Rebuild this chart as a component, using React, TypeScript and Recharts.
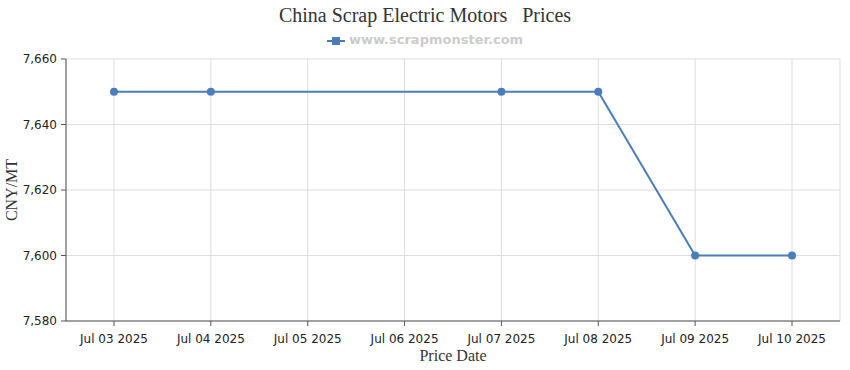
import React from "react";
import {
    LineChart,
    Line,
    XAxis,
    YAxis,
    CartesianGrid,
} from "recharts";

const dates = [
    "Jul 03 2025",
    "Jul 04 2025",
    "Jul 05 2025",
    "Jul 06 2025",
    "Jul 07 2025",
    "Jul 08 2025",
    "Jul 09 2025",
    "Jul 10 2025",
];
const prices: (number | null)[] = [7650, 7650, null, null, 7650, 7650, 7600, 7600];
const yTicks = [7580, 7600, 7620, 7640, 7660];

const data = dates.map((d, i) => ({ date: d, price: prices[i] }));

const LINE = "#4a7ebb";
const sans = "'DejaVu Sans', Verdana, sans-serif";
const serif = "'Liberation Serif', 'Times New Roman', serif";

// y axis title, centred on the plot height
const YTitle = () => (
    <text
        x={17}
        y={190}
        transform="rotate(-90 17 190)"
        textAnchor="middle"
        fill="#333"
        fontSize={16}
        fontFamily={serif}
    >
        CNY/MT
    </text>
);

const App: React.FC = () => {
    return (
        <div style={{ position: "absolute", left: 0, top: 0, width: 850, height: 370, background: "#fff" }}>
            <div
                style={{
                    position: "absolute",
                    top: 4,
                    width: 850,
                    textAlign: "center",
                    fontFamily: serif,
                    fontSize: 20,
                    color: "#333",
                    whiteSpace: "pre",
                }}
            >
                {"China Scrap Electric Motors   Prices"}
            </div>
            <div
                style={{
                    position: "absolute",
                    top: 32,
                    width: 850,
                    textAlign: "center",
                    fontFamily: sans,
                    fontSize: 13,
                    fontWeight: "bold",
                    color: "#cccccc",
                }}
            >
                <svg width={18} height={10} style={{ marginRight: 4, verticalAlign: "middle" }}>
                    <line x1={0} y1={5} x2={18} y2={5} stroke={LINE} strokeWidth={2} />
                    <rect x={5} y={1} width={8} height={8} fill={LINE} />
                </svg>
                www.scrapmonster.com
            </div>
            <LineChart width={850} height={370} data={data} margin={{ top: 59, right: 10, bottom: 0, left: 0 }}>
                <CartesianGrid stroke="#dddddd" />
                <XAxis
                    dataKey="date"
                    stroke="#555"
                    padding={{ left: 48, right: 48 }}
                    tickSize={5}
                    tickMargin={8}
                    tick={{ fill: "#222", fontSize: 12, fontFamily: sans }}
                    height={49}
                    label={{ value: "Price Date", position: "insideBottom", offset: 9, fill: "#333", fontSize: 16, fontFamily: serif }}
                />
                <YAxis
                    domain={[7580, 7660]}
                    ticks={yTicks}
                    stroke="#555"
                    width={66}
                    tickSize={5}
                    tickMargin={4}
                    tick={{ fill: "#222", fontSize: 12, fontFamily: sans }}
                    tickFormatter={(v: number) => v.toLocaleString("en-US")}
                    label={<YTitle />}
                />
                <Line
                    type="linear"
                    dataKey="price"
                    stroke={LINE}
                    strokeWidth={2}
                    dot={{ r: 4, fill: LINE, stroke: LINE, strokeWidth: 0 }}
                    connectNulls
                    isAnimationActive={false}
                />
            </LineChart>
        </div>
    );
};

export default App;
